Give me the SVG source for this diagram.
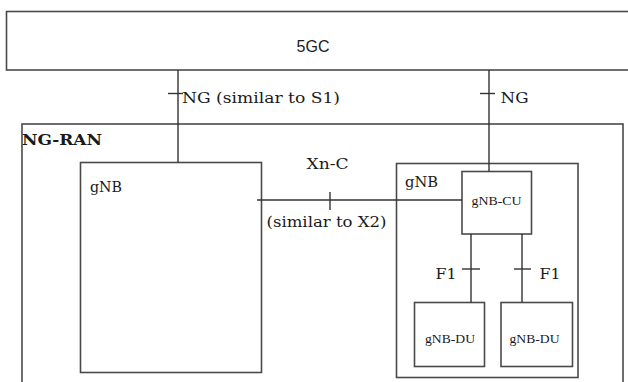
<svg xmlns="http://www.w3.org/2000/svg" width="628" height="382" viewBox="0 0 628 382">
<style>
.box{fill:none;stroke:#4a4a4a;stroke-width:1.6}
.ln{fill:none;stroke:#333;stroke-width:1.4}
.lbl{font-family:'DejaVu Serif',serif;font-size:15px;fill:#1a1a1a}
.sm{font-family:'Liberation Serif','DejaVu Serif',serif;font-size:11.5px;fill:#1a1a1a}
.cgc{font-family:'Liberation Sans','DejaVu Sans',Arial,sans-serif;font-size:16px;fill:#1a1a1a}
</style>
<rect width="628" height="382" fill="#fff"/>
<g id="n5gc">
<rect class="box" x="6.5" y="11.5" width="640" height="58.5"/>
<text class="cgc" x="313" y="52" text-anchor="middle">5GC</text>
</g>
<g id="ngran">
<rect class="box" x="22" y="124" width="601" height="280"/>
<text class="lbl" x="22" y="145" font-weight="bold" textLength="80" lengthAdjust="spacingAndGlyphs">NG-RAN</text>
</g>
<g id="gnb1">
<rect class="box" x="80.5" y="162.5" width="181" height="210"/>
<text class="lbl" x="90" y="192" textLength="32" lengthAdjust="spacingAndGlyphs">gNB</text>
</g>
<g id="gnb2">
<rect class="box" x="396.5" y="163.5" width="181.5" height="214"/>
<text class="lbl" x="405" y="187" textLength="33" lengthAdjust="spacingAndGlyphs">gNB</text>
</g>
<g id="gnbcu">
<rect class="box" x="462" y="171.5" width="69.5" height="62.5"/>
<text class="sm" x="471.5" y="205" textLength="50" lengthAdjust="spacingAndGlyphs">gNB-CU</text>
</g>
<g id="gnbdu1">
<rect class="box" x="414.5" y="302.5" width="70" height="64"/>
<text class="sm" x="425" y="343" textLength="50" lengthAdjust="spacingAndGlyphs">gNB-DU</text>
</g>
<g id="gnbdu2">
<rect class="box" x="501" y="302.5" width="71.5" height="64"/>
<text class="sm" x="509.5" y="343" textLength="50" lengthAdjust="spacingAndGlyphs">gNB-DU</text>
</g>
<g id="connectors">
<line class="ln" x1="178" y1="70" x2="178" y2="162.5"/>
<line class="ln" x1="168" y1="93.5" x2="183" y2="93.5"/>
<text class="lbl" x="182" y="103" textLength="158" lengthAdjust="spacingAndGlyphs">NG (similar to S1)</text>
<line class="ln" x1="489" y1="70" x2="489" y2="171.5"/>
<line class="ln" x1="480" y1="93.5" x2="495" y2="93.5"/>
<text class="lbl" x="500.5" y="103" textLength="28" lengthAdjust="spacingAndGlyphs">NG</text>
<line class="ln" x1="257" y1="200" x2="462" y2="200"/>
<line class="ln" x1="330" y1="192" x2="330" y2="210"/>
<text class="lbl" x="306.5" y="169" textLength="42" lengthAdjust="spacingAndGlyphs">Xn-C</text>
<text class="lbl" x="266.5" y="227" textLength="120" lengthAdjust="spacingAndGlyphs">(similar to X2)</text>
<line class="ln" x1="471" y1="234" x2="471" y2="302.5"/>
<line class="ln" x1="462" y1="269" x2="480" y2="269"/>
<text class="lbl" x="435.5" y="279" textLength="21" lengthAdjust="spacingAndGlyphs">F1</text>
<line class="ln" x1="522" y1="234" x2="522" y2="302.5"/>
<line class="ln" x1="514" y1="269" x2="531" y2="269"/>
<text class="lbl" x="539.5" y="279" textLength="21" lengthAdjust="spacingAndGlyphs">F1</text>
</g>
</svg>
